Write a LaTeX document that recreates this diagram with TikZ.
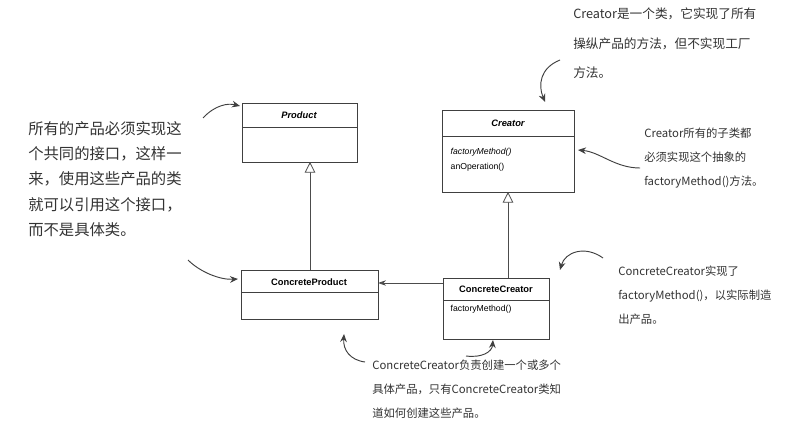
\documentclass[tikz,border=0pt]{standalone}
\usepackage{fontspec}
\setsansfont{Liberation Sans}
\newfontfamily\cjk{Noto Sans CJK SC}
\usetikzlibrary{arrows.meta}
\begin{document}
\begin{tikzpicture}[x=0.75pt,y=-0.75pt,
  box/.style={draw=black!75,line width=0.6pt,fill=white},
  title/.style={font=\sffamily\bfseries\fontsize{7}{8}\selectfont},
  op/.style={font=\sffamily\fontsize{6.5}{8}\selectfont,anchor=west},
  note/.style={font=\cjk\fontsize{10}{18}\selectfont,align=left,anchor=north west,inner sep=0pt,text=black!80},
  hand/.style={draw=black!75,line width=0.7pt,-{Stealth[length=6pt,width=5pt]}},
  inh/.style={draw=black!70,line width=0.6pt,-{Triangle[open,length=8pt,width=8pt,fill=white]}},
  assoc/.style={draw=black!70,line width=0.6pt,-{Stealth[length=6pt,width=4pt]}}]
\useasboundingbox[fill=white] (0,0) rectangle (802,434);
% Product
\draw[box] (242,103) rectangle (357,162);
\draw[black!75] (242,127) -- (357,127);
\node[title,font=\sffamily\bfseries\itshape\fontsize{7}{8}\selectfont] (prod) at (299,115) {Product};
\coordinate (prodB) at (310,162);
% Creator
\draw[box] (442,110) rectangle (574,192);
\draw[black!75] (442,136) -- (574,136);
\node[title,font=\sffamily\bfseries\itshape\fontsize{7}{8}\selectfont] (creator) at (508,123) {Creator};
\node[op,font=\sffamily\itshape\fontsize{6.5}{8}\selectfont] (fm) at (446,152) {factoryMethod()};
\node[op] (anop) at (446,167) {anOperation()};
\coordinate (creB) at (508,192);
% ConcreteProduct
\draw[box] (241,270) rectangle (378,319);
\draw[black!75] (241,292) -- (378,292);
\node[title] (cp) at (309,282) {ConcreteProduct};
\coordinate (cpT) at (310,270);
\coordinate (cpR) at (378,283);
% ConcreteCreator
\draw[box] (443,278) rectangle (549,339);
\draw[black!75] (443,300) -- (549,300);
\node[title] (cc) at (496,289) {ConcreteCreator};
\node[op] (ccfm) at (446,309) {factoryMethod()};
\coordinate (ccT) at (508,278);
\coordinate (ccL) at (443,283);
% relations
\draw[inh] (cpT) -- (prodB);
\draw[inh] (ccT) -- (creB);
\draw[assoc] (ccL) -- (cpR);
% notes
\node[note,font=\cjk\fontsize{11.5}{19}\selectfont] (n1) at (28,121) {所有的产品必须实现这\\个共同的接口，这样一\\来，使用这些产品的类\\就可以引用这个接口，\\而不是具体类。};
\node[note,font=\cjk\fontsize{9.5}{22}\selectfont] (n2) at (573,8) {Creator是一个类，它实现了所有\\操纵产品的方法，但不实现工厂\\方法。};
\node[note,font=\cjk\fontsize{8.5}{18}\selectfont] (n3) at (644,128) {Creator所有的子类都\\必须实现这个抽象的\\factoryMethod()方法。};
\node[note,font=\cjk\fontsize{8.5}{18}\selectfont] (n4) at (618,266) {ConcreteCreator实现了\\factoryMethod()，以实际制造\\出产品。};
\node[note,font=\cjk\fontsize{8.5}{18}\selectfont] (n5) at (372,360) {ConcreteCreator负责创建一个或多个\\具体产品，只有ConcreteCreator类知\\道如何创建这些产品。};
% hand arrows
\coordinate (a1s) at (203,118); \coordinate (a1e) at (240,106);
\draw[hand] (a1s) .. controls (215,105) and (228,103) .. (a1e);
\coordinate (a2s) at (188,260); \coordinate (a2e) at (238,279);
\draw[hand] (a2s) .. controls (200,272) and (220,280) .. (a2e);
\coordinate (a3s) at (560,60); \coordinate (a3e) at (545,102);
\draw[hand] (a3s) .. controls (540,68) and (538,85) .. (a3e);
\coordinate (a4s) at (640,168); \coordinate (a4e) at (578,150);
\draw[hand] (a4s) .. controls (615,168) and (600,152) .. (a4e);
\coordinate (a5s) at (603,258); \coordinate (a5e) at (560,270);
\draw[hand] (a5s) .. controls (585,245) and (565,252) .. (a5e);
\coordinate (a6s) at (365,362); \coordinate (a6e) at (344,334);
\draw[hand] (a6s) .. controls (350,360) and (343,350) .. (a6e);
\coordinate (a7s) at (466,356); \coordinate (a7e) at (493,340);
\draw[hand] (a7s) .. controls (482,358) and (492,352) .. (a7e);
\end{tikzpicture}
\end{document}
